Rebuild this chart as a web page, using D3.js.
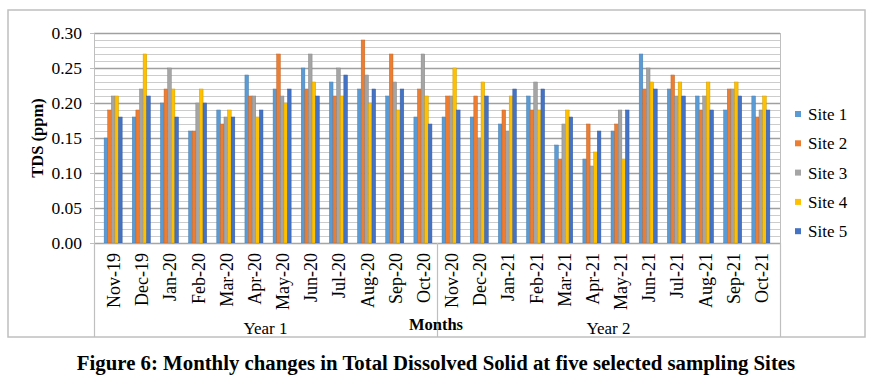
<!DOCTYPE html>
<html>
<head>
<meta charset="utf-8">
<script src="https://cdn.jsdelivr.net/npm/d3@7"></script>
<style>
  body { margin: 0; background: #fff; }
  text { font-family: "Liberation Serif", "Times New Roman", serif; fill: #000; }
</style>
</head>
<body>
<div id="chart1"></div>
<script>
// monthly TDS readings (ppm) for five sites

let months = ["Nov-19","Dec-19","Jan-20","Feb-20","Mar-20","Apr-20","May-20","Jun-20","Jul-20","Aug-20","Sep-20","Oct-20",
              "Nov-20","Dec-20","Jan-21","Feb-21","Mar-21","Apr-21","May-21","Jun-21","Jul-21","Aug-21","Sep-21","Oct-21"];
let years = ["Year 1", "Year 2"];
let sites = ["Site 1","Site 2","Site 3","Site 4","Site 5"];
let colors = ["#5b9bd5","#ed7d31","#a5a5a5","#ffc000","#4472c4"];

let site1 = [0.15,0.18,0.20,0.16,0.19,0.24,0.22,0.25,0.23,0.22,0.21,0.18, 0.18,0.18,0.17,0.21,0.14,0.12,0.16,0.27,0.22,0.21,0.19,0.21];
let site2 = [0.19,0.19,0.22,0.16,0.17,0.21,0.27,0.22,0.21,0.29,0.27,0.22, 0.21,0.21,0.19,0.19,0.12,0.17,0.17,0.22,0.24,0.19,0.22,0.18];
let site3 = [0.21,0.22,0.25,0.20,0.18,0.21,0.21,0.27,0.25,0.24,0.23,0.27, 0.21,0.15,0.16,0.23,0.17,0.11,0.19,0.25,0.21,0.21,0.22,0.19];
let site4 = [0.21,0.27,0.22,0.22,0.19,0.18,0.20,0.23,0.21,0.20,0.19,0.21, 0.25,0.23,0.21,0.19,0.19,0.13,0.12,0.23,0.23,0.23,0.23,0.21];
let site5 = [0.18,0.21,0.18,0.20,0.18,0.19,0.22,0.21,0.24,0.22,0.22,0.17, 0.19,0.21,0.22,0.22,0.18,0.16,0.19,0.22,0.21,0.19,0.21,0.19];
let yTicks = [0, 0.05, 0.10, 0.15, 0.20, 0.25, 0.30];

let allSites = [site1, site2, site3, site4, site5];

let W = 873, H = 385;
let plotL = 94, plotR = 780, plotT = 33, plotB = 243;

let svg = d3.select("#chart1").append("svg")
    .attr("width", W)
    .attr("height", H);

// outer frame of the chart
svg.append("rect")
    .attr("x", 8).attr("y", 10)
    .attr("width", 857).attr("height", 327)
    .attr("fill", "none")
    .attr("stroke", "#bfbfbf")
    .attr("stroke-width", 1.5);

let x0 = d3.scaleBand().domain(months).range([plotL, plotR]).padding(0.36);
let x1 = d3.scaleBand().domain(sites).range([0, x0.bandwidth()]);
let y = d3.scaleLinear().domain([0, 0.30]).range([plotB, plotT]);

// gridlines: every 0.01, darker at each labelled tick
let minor = d3.range(0, 31).map(function(d){ return d / 100; });
svg.append("g").selectAll("line")
    .data(minor)
    .enter().append("line")
    .attr("x1", plotL).attr("x2", plotR)
    .attr("y1", function(d){ return Math.round(y(d)) + 0.5; })
    .attr("y2", function(d){ return Math.round(y(d)) + 0.5; })
    .attr("stroke", function(d,i){ return i % 5 == 0 ? "#a0a0a0" : "#cccccc"; })
    .attr("stroke-width", function(d,i){ return i % 5 == 0 ? 1.6 : 1; });

// y axis
let yAxis = d3.axisLeft(y).tickValues(yTicks).tickFormat(d3.format(".2f")).tickSize(4).tickPadding(8);
let gy = svg.append("g").attr("transform", "translate(" + plotL + ",0)").call(yAxis);
gy.select(".domain").attr("stroke", "#bfbfbf");
gy.selectAll(".tick line").attr("stroke", "#bfbfbf");
gy.selectAll("text").style("font-size", "17.5px").style("font-family", "Liberation Serif");

// right edge of plot
svg.append("line")
    .attr("x1", plotR + 0.5).attr("x2", plotR + 0.5)
    .attr("y1", plotT).attr("y2", plotB)
    .attr("stroke", "#bfbfbf");

// bars
let groups = svg.append("g").selectAll("g")
    .data(months)
    .enter().append("g")
    .attr("transform", function(d){ return "translate(" + x0(d) + ",0)"; });

groups.selectAll("rect")
    .data(function(d,i){ return sites.map(function(s,j){ return {site: s, k: j, v: allSites[j][i]}; }); })
    .enter().append("rect")
    .attr("x", function(d){ return x1(d.site); })
    .attr("y", function(d){ return y(d.v); })
    .attr("width", x1.bandwidth())
    .attr("height", function(d){ return y(0) - y(d.v); })
    .attr("fill", function(d){ return colors[d.k]; })
    .attr("stroke", function(d){ return d3.color(colors[d.k]).darker(0.6); })
    .attr("stroke-width", 0.5);

// category axis with year grouping
svg.append("line")
    .attr("x1", plotL).attr("x2", plotR)
    .attr("y1", plotB + 0.5).attr("y2", plotB + 0.5)
    .attr("stroke", "#a6a6a6").attr("stroke-width", 1.2);

let seps = [plotL, (plotL + plotR) / 2, plotR];
svg.append("g").selectAll("line")
    .data(seps)
    .enter().append("line")
    .attr("x1", function(d){ return Math.round(d) + 0.5; })
    .attr("x2", function(d){ return Math.round(d) + 0.5; })
    .attr("y1", plotB).attr("y2", 337)
    .attr("stroke", "#bfbfbf").attr("stroke-width", 1.2);

svg.append("g").selectAll("text")
    .data(months)
    .enter().append("text")
    .attr("transform", function(d){ return "translate(" + (x0(d) + x0.bandwidth() / 2 + 7) + ",253) rotate(-90)"; })
    .attr("text-anchor", "end")
    .style("font-size", "18px")
    .text(function(d){ return d; });

svg.append("g").selectAll("text")
    .data(years)
    .enter().append("text")
    .attr("x", function(d,i){ return (seps[i] + seps[i+1]) / 2; })
    .attr("y", 334)
    .attr("text-anchor", "middle")
    .style("font-size", "17px")
    .text(function(d){ return d; });

svg.append("text")
    .attr("x", 436).attr("y", 330)
    .attr("text-anchor", "middle")
    .style("font-size", "16.5px").style("font-weight", "bold")
    .text("Months");

svg.append("text")
    .attr("transform", "translate(43,138) rotate(-90)")
    .attr("text-anchor", "middle")
    .style("font-size", "16.5px").style("font-weight", "bold")
    .text("TDS (ppm)");

// legend
let leg = svg.append("g").selectAll("g")
    .data(sites)
    .enter().append("g")
    .attr("transform", function(d,i){ return "translate(795," + (115 + i * 29.3) + ")"; });

leg.append("rect")
    .attr("x", 0).attr("y", -4)
    .attr("width", 6).attr("height", 6)
    .attr("fill", function(d,i){ return colors[i]; });

leg.append("text")
    .attr("x", 13).attr("y", 5)
    .style("font-size", "17px")
    .text(function(d){ return d; });

// figure caption
svg.append("text")
    .attr("x", 436).attr("y", 370)
    .attr("text-anchor", "middle")
    .style("font-size", "20.8px").style("font-weight", "bold")
    .text("Figure 6: Monthly changes in Total Dissolved Solid at five selected sampling Sites");
</script>
</body>
</html>
